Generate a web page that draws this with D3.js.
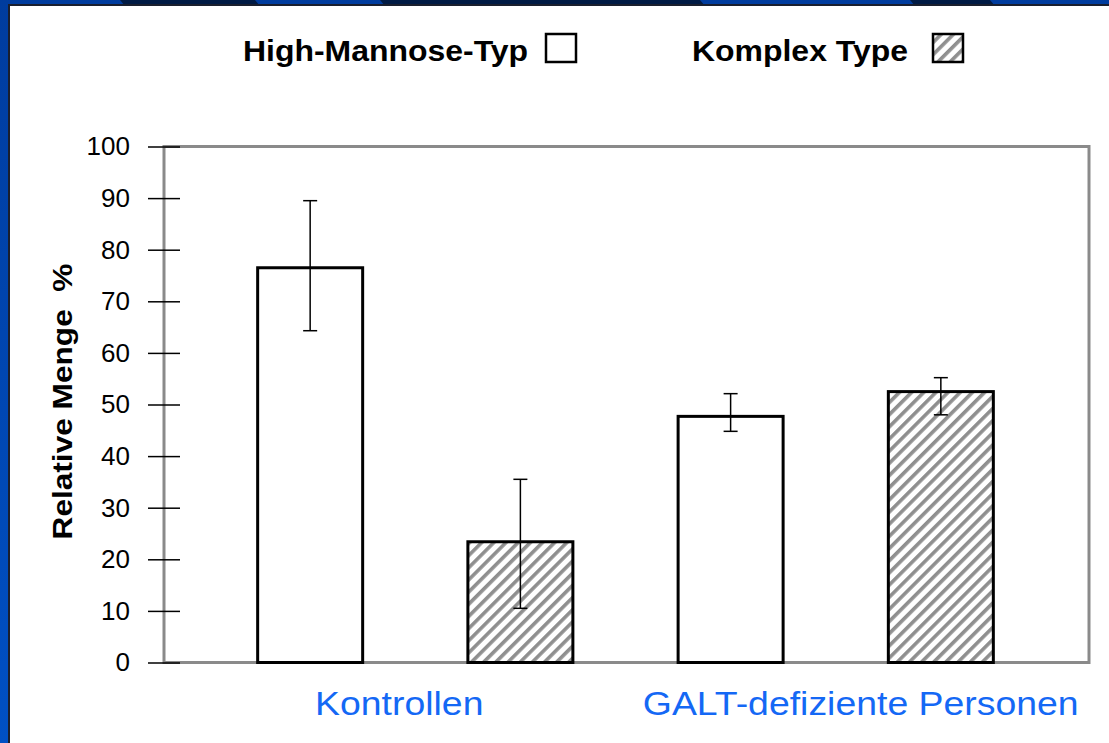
<!DOCTYPE html>
<html>
<head>
<meta charset="utf-8">
<script src="https://cdn.jsdelivr.net/npm/d3@7"></script>
<style>
  body { margin: 0; background: #fff; }
  svg { display: block; }
  text { font-family: "Liberation Sans", Arial, sans-serif; }
</style>
</head>
<body>
<svg id="chart"></svg>
<script>
var width = 1109,
    height = 743;

// data
var groups = ["Kontrollen", "GALT-defiziente Personen"];
var types = ["High-Mannose-Typ", "Komplex Type"];
var highMannose = [76.5, 47.7];
var komplex = [23.4, 52.5];
var highMannoseErr = [[64.3, 89.5], [44.8, 52.1]];
var komplexErr = [[10.5, 35.5], [48.0, 55.2]];
var yTicks = [0, 10, 20, 30, 40, 50, 60, 70, 80, 90, 100];
var yTitle = "Relative Menge\u00a0\u00a0%";

var svg = d3.select("#chart")
    .attr("width", width)
    .attr("height", height);

var defs = svg.append("defs");
var hatch = defs.append("pattern")
    .attr("id", "hatch")
    .attr("patternUnits", "userSpaceOnUse")
    .attr("width", 8.6)
    .attr("height", 8.6)
    .attr("patternTransform", "rotate(45)");
hatch.append("rect").attr("width", 8.6).attr("height", 8.6).attr("fill", "#fff");
hatch.append("rect").attr("width", 3.6).attr("height", 8.6).attr("fill", "#8f8f8f");

var grad = defs.append("linearGradient")
    .attr("id", "leftblue")
    .attr("x1", 0).attr("y1", 0).attr("x2", 0).attr("y2", 1);
grad.append("stop").attr("offset", "0%").attr("stop-color", "#003c9e");
grad.append("stop").attr("offset", "100%").attr("stop-color", "#0050c4");

// slide background
svg.append("rect").attr("width", width).attr("height", height).attr("fill", "url(#leftblue)");
var darkSegs = [[120, 255], [380, 700], [910, 990]];
svg.selectAll(".seg")
    .data(darkSegs)
    .enter().append("polygon")
    .attr("class", "seg")
    .attr("points", function(d) {
        return [[d[0], 0], [d[1], 0], [d[1] + 5, 6], [d[0] + 5, 6]].join(" ");
    })
    .attr("fill", "#001a44");
svg.append("rect").attr("x", 8).attr("y", 4).attr("width", width - 8).attr("height", height - 4).attr("fill", "#1a1f2e");
svg.append("rect").attr("x", 10).attr("y", 6).attr("width", width - 10).attr("height", height - 6).attr("fill", "#fff");

// plot area
var plot = {left: 164, right: 1089, top: 146.5, bottom: 662.5};

var keys = [];
groups.forEach(function(g, gi) {
    types.forEach(function(t, ti) { keys.push(gi + "-" + ti); });
});

var x = d3.scalePoint()
    .domain(keys)
    .range([plot.left - 1, plot.right - 1])
    .padding(0.7);

var y = d3.scaleLinear()
    .domain([0, 100])
    .range([plot.bottom, plot.top]);

var barWidth = 105;

svg.append("rect")
    .attr("x", plot.left)
    .attr("y", plot.top)
    .attr("width", plot.right - plot.left)
    .attr("height", plot.bottom - plot.top)
    .attr("fill", "none")
    .attr("stroke", "#8a8a8a")
    .attr("stroke-width", 3);

var yAxis = d3.axisLeft(y)
    .tickValues(yTicks)
    .tickSize(-16)
    .tickPadding(34)
    .tickFormat(d3.format("d"));

var ag = svg.append("g")
    .attr("transform", "translate(" + plot.left + ",0)")
    .call(yAxis);
ag.select(".domain").remove();
ag.selectAll(".tick line")
    .attr("x1", -16)
    .attr("stroke", "#000")
    .attr("stroke-width", 1.5);
ag.selectAll(".tick text")
    .attr("fill", "#000")
    .style("font-size", "26px")
    .style("font-family", "Liberation Sans, Arial, sans-serif");

// bars
var bars = [];
groups.forEach(function(g, gi) {
    bars.push({key: gi + "-0", type: 0, value: highMannose[gi], err: highMannoseErr[gi]});
    bars.push({key: gi + "-1", type: 1, value: komplex[gi], err: komplexErr[gi]});
});

svg.selectAll(".bar")
    .data(bars)
    .enter().append("rect")
    .attr("class", "bar")
    .attr("x", function(d) { return x(d.key) - barWidth / 2; })
    .attr("y", function(d) { return y(d.value); })
    .attr("width", barWidth)
    .attr("height", function(d) { return y(0) - y(d.value); })
    .attr("fill", function(d) { return d.type == 1 ? "url(#hatch)" : "#fff"; })
    .attr("stroke", "#000")
    .attr("stroke-width", 3);

// error bars
var eg = svg.selectAll(".err")
    .data(bars)
    .enter().append("g")
    .attr("class", "err")
    .attr("stroke", "#000")
    .attr("stroke-width", 1.5);
eg.append("line")
    .attr("x1", function(d) { return x(d.key); })
    .attr("x2", function(d) { return x(d.key); })
    .attr("y1", function(d) { return y(d.err[0]); })
    .attr("y2", function(d) { return y(d.err[1]); });
eg.selectAll(".cap")
    .data(function(d) { return d.err.map(function(v) { return {key: d.key, v: v}; }); })
    .enter().append("line")
    .attr("class", "cap")
    .attr("x1", function(d) { return x(d.key) - 7; })
    .attr("x2", function(d) { return x(d.key) + 7; })
    .attr("y1", function(d) { return y(d.v); })
    .attr("y2", function(d) { return y(d.v); });

// group labels
var labelShift = [-16, 25];
svg.selectAll(".glabel")
    .data(groups)
    .enter().append("text")
    .attr("class", "glabel")
    .attr("transform", function(d, i) {
        var cx = (x(i + "-0") + x(i + "-1")) / 2 + labelShift[i];
        return "translate(" + cx + ",715) scale(1.1,1)";
    })
    .attr("text-anchor", "middle")
    .attr("fill", "#1468f5")
    .style("font-size", "34px")
    .text(function(d) { return d; });

// y title
svg.append("text")
    .attr("transform", "translate(72,401.5) rotate(-90) scale(1.13,1)")
    .attr("text-anchor", "middle")
    .style("font-size", "28px")
    .style("font-weight", "bold")
    .attr("fill", "#000")
    .text(yTitle);

// legend
var legendX = [243, 692];
var legendBox = [546, 933];
var lg = svg.selectAll(".legend")
    .data(types)
    .enter().append("g")
    .attr("class", "legend");
lg.append("text")
    .attr("transform", function(d, i) { return "translate(" + legendX[i] + ",61) scale(1.065,1)"; })
    .style("font-size", "30px")
    .style("font-weight", "bold")
    .attr("fill", "#000")
    .text(function(d) { return d; });
lg.append("rect")
    .attr("x", function(d, i) { return legendBox[i]; })
    .attr("y", 34)
    .attr("width", 30)
    .attr("height", 28)
    .attr("fill", function(d, i) { return i == 1 ? "url(#hatch)" : "#fff"; })
    .attr("stroke", "#000")
    .attr("stroke-width", 2.5);
</script>
</body>
</html>
